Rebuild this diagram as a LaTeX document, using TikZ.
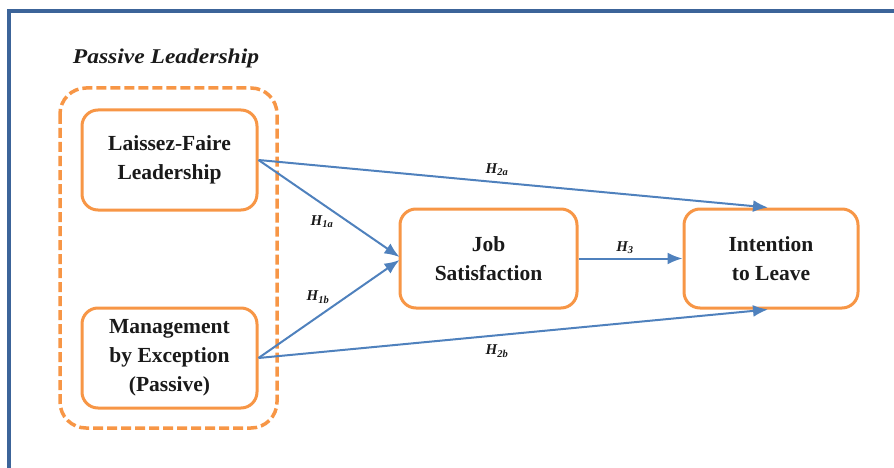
\documentclass[tikz,border=0pt]{standalone}
\usepackage{fontspec}
\setmainfont{Liberation Serif}
\usetikzlibrary{arrows.meta,calc}
\definecolor{frameblue}{HTML}{3C6499}
\definecolor{boxorange}{HTML}{F79646}
\definecolor{arrblue}{HTML}{4F81BD}
\definecolor{inktext}{HTML}{1A1A1A}
\tikzset{
  x=1pt,y=-1pt,
  concept/.style={draw=boxorange,line width=3pt,rounded corners=16pt,fill=white,
    minimum width=175pt,minimum height=100pt,align=center,inner sep=0pt,text=inktext,
    font=\fontsize{21.5}{29}\selectfont\bfseries},
  group/.style={draw=boxorange,line width=3.5pt,rounded corners=26pt,dash pattern=on 10pt off 4pt},
  link/.style={draw=arrblue,line width=2pt,-{Latex[length=15pt,width=12pt]}},
  hyp/.style={font=\fontsize{15}{17}\selectfont\bfseries\itshape,text=inktext},
}
\begin{document}
\begin{tikzpicture}
\useasboundingbox (0,0) rectangle (894,468);
% frame
\draw[frameblue,line width=4pt] (9,468) -- (9,11.5) -- (894,11.5);
% title
\node[font=\fontsize{21}{24}\selectfont\bfseries\itshape,text=inktext] (title) at (166,58) {\scalebox{1.12}[1]{Passive Leadership}};
% group
\draw[group] (60,88) rectangle (277,428);
% nodes
\node[concept] (lf) at (169.5,160) {Laissez-Faire\\Leadership};
\node[concept] (mbe) at (169.5,358) {\raisebox{-3pt}{\parbox{175pt}{\centering Management\\by Exception\\(Passive)}}};
\node[concept,minimum width=177pt,minimum height=99pt] (js) at (488.5,258.5) {Job\\Satisfaction};
\node[concept,minimum width=174pt,minimum height=99pt] (il) at (771,258.5) {Intention\\to Leave};
% links
\draw[link] (lf.east) -- ($(js.west)+(1,-1.5)$);
\draw[link] (mbe.east) -- ($(js.west)+(1,1.5)$);
\draw[link] (lf.east) -- ($(il.north)+(-3,0)$);
\draw[link] (mbe.east) -- ($(il.south)+(-3,0)$);
\draw[link] (js.east) -- (il.west);
% labels
\node[hyp] (h2a) at (497,170) {H\textsubscript{2a}};
\node[hyp] (h1a) at (322,222) {H\textsubscript{1a}};
\node[hyp] (h1b) at (318,297) {H\textsubscript{1b}};
\node[hyp] (h2b) at (497,351) {H\textsubscript{2b}};
\node[hyp] (h3) at (625,248) {H\textsubscript{3}};
\end{tikzpicture}
\end{document}
